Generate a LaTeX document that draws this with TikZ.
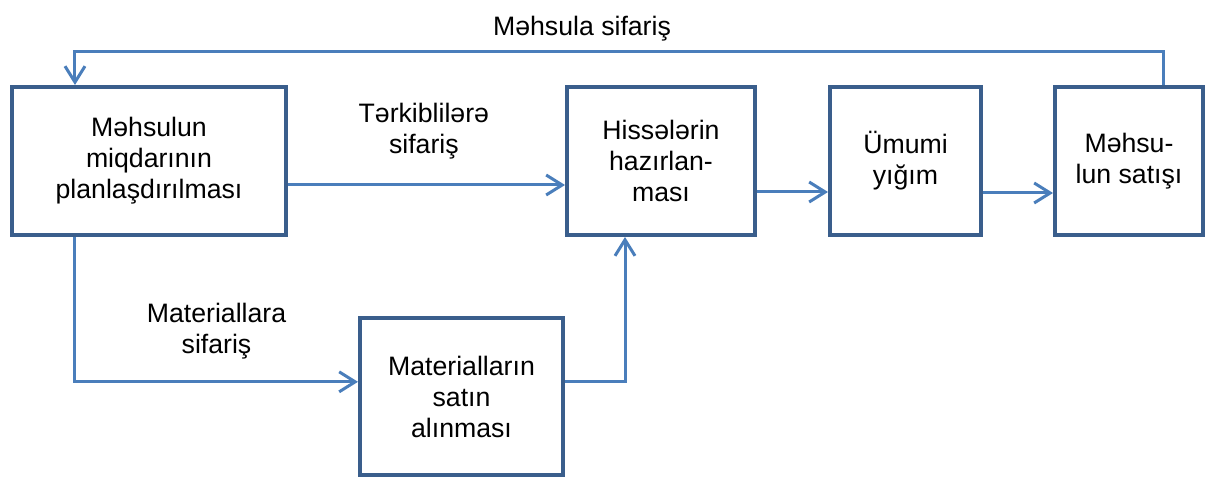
\documentclass[tikz,border=0pt]{standalone}
\usepackage{fontspec}
\setmainfont{Liberation Sans}
\usepackage{tikz}
\usetikzlibrary{positioning}
\usetikzlibrary{arrows,arrows.meta}
\usetikzlibrary{calc}
\definecolor{rahmen}{HTML}{3A5E8C}
\definecolor{xett}{HTML}{4A7EBB}
\tikzstyle{block} = [draw=rahmen, line width=3pt, fill=white, rectangle, minimum height=111pt, align=center, font=\fontsize{20}{23.25}\selectfont]
\tikzstyle{xetti} = [draw=xett, line width=2.25pt]
\tikzstyle{etiket} = [align=center, font=\fontsize{20}{23.25}\selectfont]

\begin{document}
\begin{tikzpicture}[auto, >={Straight Barb[length=12pt,width=15pt]}]
	\useasboundingbox (-111.75pt,-237.75pt) rectangle (793.5pt,120.75pt);
	\node [block, minimum width=205.5pt] (plan) at (0,0) {Məhsulun\\miqdarının\\planlaşdırılması};
	\node [block, minimum width=141pt, node distance=207.75pt, right=of plan] (hisse) {Hissələrin\\hazırlan-\\ması};
	\node [block, minimum width=113.25pt, node distance=53.25pt, right=of hisse] (yigim) {Ümumi\\yığım};
	\node [block, minimum width=111pt, node distance=52.5pt, right=of yigim] (satis) {Məhsu-\\lun satışı};
	\node [block, minimum width=152.25pt, minimum height=117.75pt, below right=59.25pt and 52.5pt of plan] (alis) {Materialların\\satın\\alınması};

	\draw [xetti, ->] ([xshift=25.5pt]satis.north) -- ++(0,24.75pt) -| node [etiket, pos=0.267, above=4pt] (mehsulaSif) {Məhsula sifariş} ([xshift=-55.5pt]plan.north);
	\draw [xetti, ->] ([yshift=-18pt]plan.east) -- node [etiket, above=15pt, xshift=-2pt] (terkibSif) {Tərkiblilərə\\sifariş} ([yshift=-18pt]hisse.west);
	\draw [xetti, ->] ([xshift=-55.5pt]plan.south) |- node [etiket, pos=0.75, above=12.75pt] (materialSif) {Materiallara\\sifariş} ([yshift=11pt]alis.west);
	\draw [xetti, ->] ([yshift=11pt]alis.east) -| ([xshift=-27pt]hisse.south);
	\draw [xetti, ->] ([yshift=-23.25pt]hisse.east) -- ([yshift=-23.25pt]yigim.west);
	\draw [xetti, ->] ([yshift=-24pt]yigim.east) -- ([yshift=-24pt]satis.west);

\end{tikzpicture}
\end{document}
